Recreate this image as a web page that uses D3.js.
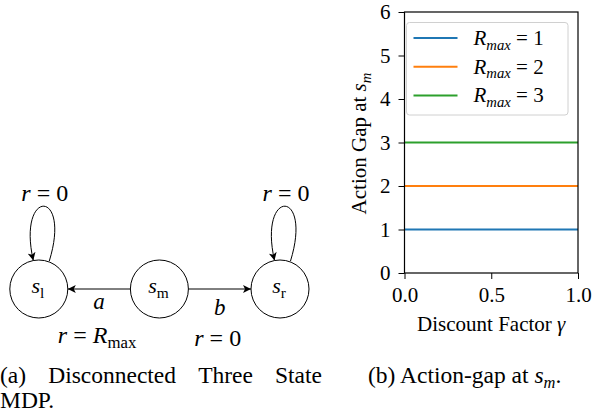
<!DOCTYPE html>
<html>
<meta charset=utf-8>
<title>Three state MDP and action gap</title>
<style>
  body { margin: 0; background: #fff; }
  svg { display: block; font-family: "Liberation Serif", "Times New Roman", serif; }
  text { font-family: "Liberation Serif", "Times New Roman", serif; fill: #000; }
</style>
<svg id=fig width=593 height=418></svg>
<script src=https://cdn.jsdelivr.net/npm/d3@7></script>
<script>
// ---- data ----
var states = ["l", "m", "r"];
var gammas = [0, 1];
var gapR1 = [1, 1];
var gapR2 = [2, 2];
var gapR3 = [3, 3];
var seriesNames = ["1", "2", "3"];
var seriesColors = ["#1f77b4", "#ff7f0e", "#2ca02c"];
var xTicks = [0, 0.5, 1];
var yTicks = [0, 1, 2, 3, 4, 5, 6];

var svg = d3.select("#fig");

// write math-ish text: parts = [[text, italic, sub]]
function mathText(sel, parts, fs) {
    parts.forEach(function (p, i) {
        var prevSub = i > 0 && parts[i - 1][2];
        var t = sel.append("tspan").text(p[0]);
        if (p[1]) t.style("font-style", "italic");
        if (p[2]) t.attr("font-size", fs * 0.7).attr("dy", prevSub ? 0 : fs * 0.22);
        else if (prevSub) t.attr("dy", -fs * 0.22);
    });
    return sel;
}

// ================= (a) MDP diagram =================
var nodeX = d3.scalePoint().domain(states).range([38.8, 280]);
var nodeY = 289, nodeR = 29;

var defs = svg.append("defs");
defs.append("marker").attr("id", "arr")
    .attr("viewBox", "0 0 10 10").attr("refX", 10).attr("refY", 5)
    .attr("markerWidth", 10).attr("markerHeight", 8).attr("markerUnits", "userSpaceOnUse")
    .attr("orient", "auto")
    .append("path").attr("d", "M0,0 L10,5 L0,10 L2.5,5 Z").attr("fill", "#000");

var gA = svg.append("g");

// edges from s_m
var edges = [{ from: "m", to: "l", act: "a", actY: 309, rewY: 343,
               rew: [["r", true], [" = ", false], ["R", true], ["max", false, true]] },
             { from: "m", to: "r", act: "b", actY: 315, rewY: 346,
               rew: [["r", true], [" = 0", false]] }];
edges.forEach(function (e) {
    var x0 = nodeX(e.from), x1 = nodeX(e.to), dir = x1 > x0 ? 1 : -1;
    gA.append("line")
        .attr("x1", x0 + dir * nodeR).attr("y1", nodeY)
        .attr("x2", x1 - dir * nodeR).attr("y2", nodeY)
        .attr("stroke", "#000").attr("stroke-width", 1).attr("marker-end", "url(#arr)");
    var mid = (x0 + x1) / 2;
    gA.append("text").attr("x", mid).attr("y", e.actY)
        .attr("text-anchor", "middle").attr("font-size", 23).style("font-style", "italic").text(e.act);
    mathText(gA.append("text").attr("x", mid - 2).attr("y", e.rewY)
        .attr("text-anchor", "middle").attr("font-size", 24), e.rew, 24);
});

// self loops on s_l and s_r
["l", "r"].forEach(function (s) {
    var cx = nodeX(s), top = nodeY - nodeR;
    gA.append("path")
        .attr("d", "M" + (cx + 10.5) + "," + (top + 1) +
            " C" + (cx + 33) + "," + (top - 72) + " " + (cx - 22) + "," + (top - 72) + " " + (cx - 5.5) + "," + (top + 0.5))
        .attr("fill", "none").attr("stroke", "#000").attr("stroke-width", 1).attr("marker-end", "url(#arr)");
    mathText(gA.append("text").attr("x", cx + 6).attr("y", 201)
        .attr("text-anchor", "middle").attr("font-size", 24), [["r", true], [" = 0", false]], 24);
});

// state circles
var node = gA.selectAll(".state").data(states).enter().append("g").attr("class", "state")
    .attr("transform", function (d) { return "translate(" + nodeX(d) + "," + nodeY + ")"; });
node.append("circle").attr("r", nodeR).attr("fill", "#fff").attr("stroke", "#000").attr("stroke-width", 1);
node.each(function (d) {
    mathText(d3.select(this).append("text").attr("x", -1).attr("y", 4)
        .attr("text-anchor", "middle").attr("font-size", 22), [["s", true], [d, false, true]], 22);
});

// ================= (b) action gap plot =================
var x = d3.scaleLinear().domain([0, 1]).range([404.5, 578]);
var y = d3.scaleLinear().domain([0, 6]).range([273, 12]);
var gB = svg.append("g");

var series = [gapR1, gapR2, gapR3];
var line = d3.line().x(function (d, i) { return x(gammas[i]); }).y(function (d) { return y(d); });
gB.selectAll(".gap").data(series).enter().append("path").attr("class", "gap")
    .attr("d", line).attr("fill", "none")
    .attr("stroke", function (d, i) { return seriesColors[i]; }).attr("stroke-width", 2);

var xAxis = gB.append("g").attr("transform", "translate(0," + y(0) + ")")
    .call(d3.axisBottom(x).tickValues(xTicks).tickFormat(d3.format(".1f")).tickSize(6).tickSizeOuter(0).tickPadding(8));
var yAxis = gB.append("g").attr("transform", "translate(" + x(0) + ",0)")
    .call(d3.axisLeft(y).tickValues(yTicks).tickFormat(d3.format("d")).tickSize(6).tickSizeOuter(0).tickPadding(8));
[xAxis, yAxis].forEach(function (a) {
    a.attr("font-family", null);
    a.selectAll("text").attr("font-size", 21).attr("fill", "#000");
    a.selectAll("line").attr("stroke", "#000");
    a.select(".domain").remove();
});

gB.append("rect").attr("x", x(0)).attr("y", y(6))
    .attr("width", x(1) - x(0)).attr("height", y(0) - y(6))
    .attr("fill", "none").attr("stroke", "#000").attr("stroke-width", 1.2);

// legend
var leg = gB.append("g").attr("transform", "translate(406.5,22.5)");
leg.append("rect").attr("width", 161.5).attr("height", 92.5).attr("rx", 3)
    .attr("fill", "#fff").attr("fill-opacity", 0.8).attr("stroke", "#d0d0d0").attr("stroke-width", 1);
seriesNames.forEach(function (n, i) {
    var ly = 15.5 + i * 28.7;
    leg.append("line").attr("x1", 7).attr("x2", 51).attr("y1", ly).attr("y2", ly)
        .attr("stroke", seriesColors[i]).attr("stroke-width", 2);
    mathText(leg.append("text").attr("x", 67).attr("y", ly + 7).attr("font-size", 21),
        [["R", true], ["max", true, true], [" = " + n, false]], 21);
});

// axis labels
gB.append("text").attr("x", x(0.5)).attr("y", 331).attr("text-anchor", "middle").attr("font-size", 21)
    .text("Discount Factor ").append("tspan").style("font-style", "italic").text("γ");
mathText(gB.append("text").attr("transform", "translate(366,143.5) rotate(-90)")
    .attr("text-anchor", "middle").attr("font-size", 21),
    [["Action Gap at ", false], ["s", true], ["m", true, true]], 21);

// ================= captions =================
var capFs = 23.5;
var capWords = ["(a)", "Disconnected", "Three", "State"];
var capG = svg.append("g");
var wEls = capWords.map(function (w) {
    return capG.append("text").attr("y", 383).attr("font-size", capFs).text(w);
});
var widths = wEls.map(function (el) { return el.node().getComputedTextLength(); });
var gap = (322 - d3.sum(widths)) / (capWords.length - 1);
var cx0 = 0;
wEls.forEach(function (el, i) { el.attr("x", cx0); cx0 += widths[i] + gap; });
capG.append("text").attr("x", 0).attr("y", 408).attr("font-size", capFs).text("MDP.");

mathText(capG.append("text").attr("x", 368).attr("y", 383).attr("font-size", capFs),
    [["(b) Action-gap at ", false], ["s", true], ["m", true, true], [".", false]], capFs);
</script>
</html>
